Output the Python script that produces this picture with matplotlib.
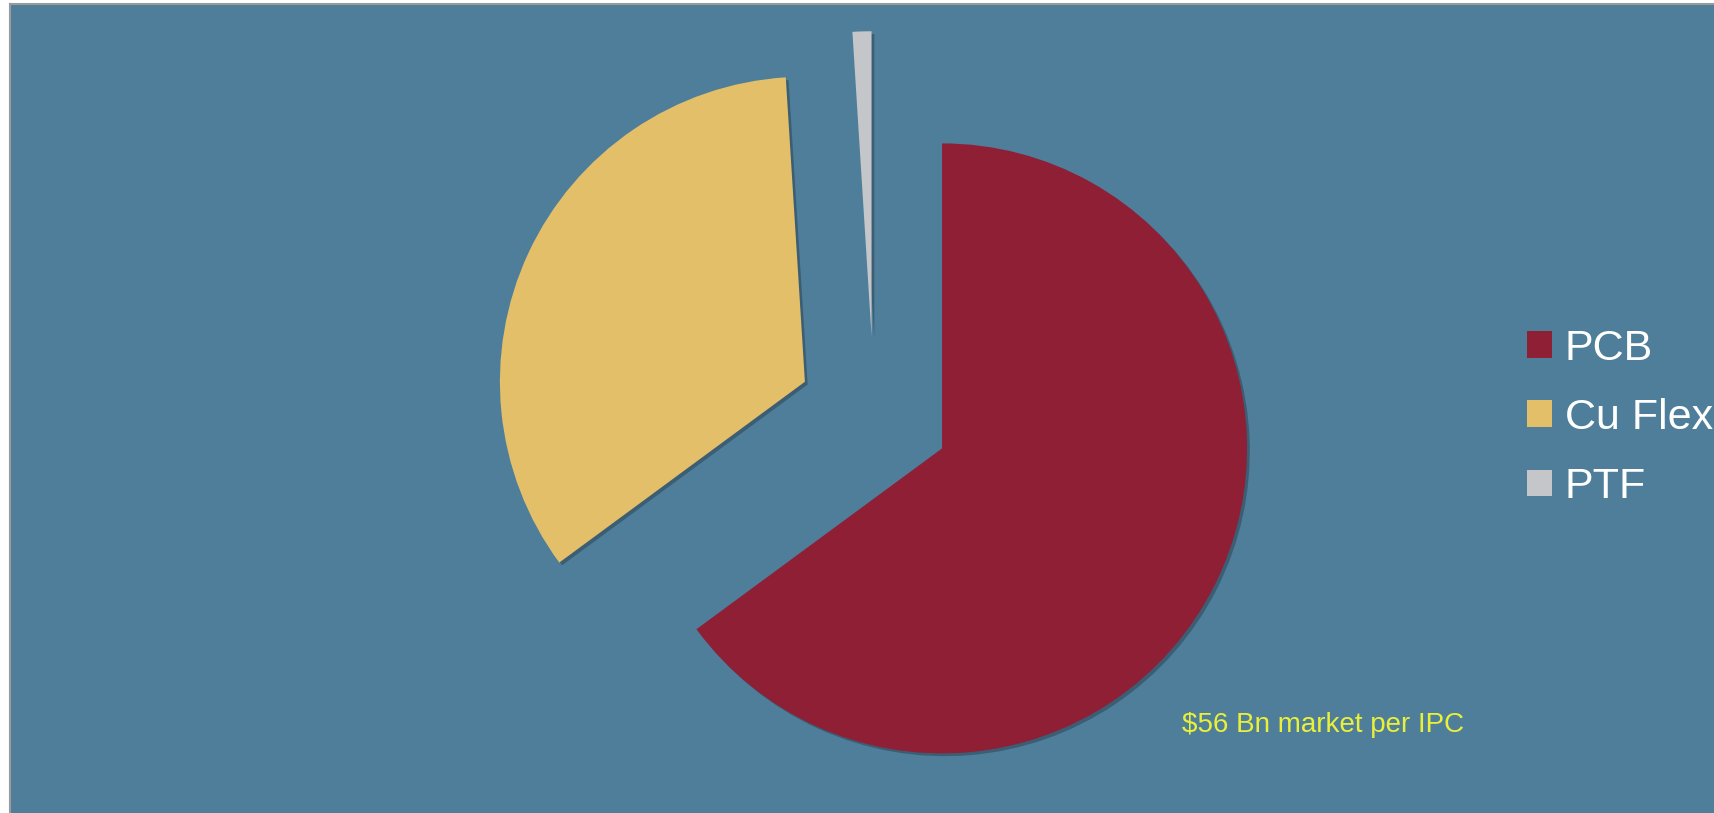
#!/usr/bin/env python3
"""Exploded pie: flexible circuit market split (PCB / Cu Flex / PTF)."""

import matplotlib
matplotlib.use("Agg")
import matplotlib.pyplot as plt
import matplotlib.patheffects as pe

# data
labels = ["PCB", "Cu Flex", "PTF"]
shares = [64.9, 34.1, 1.0]
explode = [0.25, 0.25, 0.255]   # fraction of radius
colors = ["#8F1F35", "#E3BF6A", "#C4C6C9"]
note = r"\$56 Bn market per IPC"

W, H = 1714, 813
BG = "#4F7E9B"

fig = plt.figure(figsize=(W / 100, H / 100), dpi=100, facecolor="white")
# background panel (thin white margin at left/top like the source slide)
ax = fig.add_axes([10 / W, 0, (W - 10) / W, (H - 4) / H])
ax.set_facecolor(BG)

R = 305
wedges, _ = ax.pie(
    shares,
    explode=[e * R for e in explode],  # mpl uses data units here
    colors=colors,
    startangle=90,
    counterclock=False,
    radius=R,
    center=(874, H - 414),
    wedgeprops=dict(linewidth=0),
)
for w in wedges:
    w.set_path_effects([
        pe.SimplePatchShadow(offset=(2, -2), shadow_rgbFace="black", alpha=0.25),
        pe.Normal(),
    ])

ax.set_xlim(10, W)
ax.set_ylim(0, H - 4)
ax.set_aspect("equal")
ax.set_frame_on(True)
for s in ["right", "bottom"]:
    ax.spines[s].set_visible(False)
for s in ["left", "top"]:
    ax.spines[s].set_color("#9A9A9A")
    ax.spines[s].set_linewidth(1.5)
ax.set_xticks([])
ax.set_yticks([])

ax.text(1182, H - 732, note, color="#EAF03A", fontsize=20,
        family="Liberation Sans", ha="left", va="baseline")

leg = ax.legend(
    wedges, labels,
    loc="center left",
    bbox_to_anchor=(1527 / W, 1 - 418 / H),
    bbox_transform=fig.transFigure,
    frameon=False,
    prop={"family": "Liberation Sans", "size": 31},
    handlelength=0.58, handleheight=0.58,
    handletextpad=0.3, labelspacing=0.68,
    borderpad=0, borderaxespad=0,
)
for t in leg.get_texts():
    t.set_color("white")
for h in leg.legend_handles:
    h.set_path_effects([])

fig.savefig("out.png", dpi=100, facecolor=fig.get_facecolor())
